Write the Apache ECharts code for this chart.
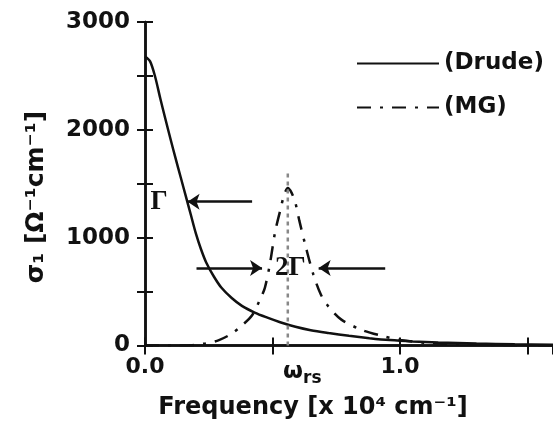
<!DOCTYPE html>
<html><head><meta charset="utf-8">
<script src="https://cdn.jsdelivr.net/npm/echarts@6/dist/echarts.min.js"></script>
<style>html,body{margin:0;padding:0;background:#fff;overflow:hidden}#c{width:553px;height:427px}</style>
</head><body><div id="c"></div>
<script>
// Drude curve (frequency in 10^4 cm^-1, sigma_1 in Ohm^-1 cm^-1)
const drudeFreq  = [0.00,0.02,0.04,0.06,0.08,0.10,0.12,0.14,0.16,0.18,0.20,0.22,0.24,0.27,0.30,0.34,0.38,0.43,0.48,0.53,0.59,0.65,0.72,0.80,0.88,0.96,1.05,1.15,1.30,1.45,1.60];
const drudeSigma = [2680,2635,2490,2290,2100,1915,1735,1560,1385,1210,1035,890,770,640,535,440,367,305,258,216,174,142,116,90,68,50,37,27,18,12,8];
// MG curve
const mgFreq  = [0.00,0.12,0.18,0.24,0.29,0.34,0.38,0.42,0.45,0.47,0.49,0.51,0.53,0.545,0.56,0.575,0.59,0.605,0.63,0.66,0.69,0.72,0.77,0.85,0.92,1.00,1.10,1.25,1.40,1.60];
const mgSigma = [0,0,3,20,50,110,185,280,420,535,760,1050,1250,1390,1460,1415,1320,1160,920,660,470,360,240,145,95,52,25,10,4,1];
// resonance frequency and its marker line
const wrs = 0.56;
const wrsLineTop = 1630;
// tick labels
const yTickLabels = {0:'0',1000:'1000',2000:'2000',3000:'3000'};
const xLabelValues = [0, wrs, 1.0];
const xTickValues = [0, 0.5, 1.0, 1.5];
// annotation arrows (data coords)
const gammaArrow = {from:[0.42,1334], to:[0.167,1334]};
const twoGammaLeft = {from:[0.202,719], to:[0.459,719]};
const twoGammaRight = {from:[0.942,719], to:[0.681,719]};

const BOLD = {fontFamily:'DejaVu Sans', fontWeight:'bold', color:'#111'};
const chart = echarts.init(document.getElementById('c'), null, {renderer:'canvas'});
const arrowLabel = (txt, dist) => ({show:true, position:'end', formatter:txt, distance:dist,
  fontFamily:'Liberation Serif', fontWeight:'bold', fontSize:27, color:'#111'});
chart.setOption({
  animation:false,
  backgroundColor:'#fff',
  grid:{left:145, right:-3, top:22, bottom:81.5},
  legend:{
    data:['(Drude)','(MG)'], orient:'vertical', left:356, top:52, padding:0,
    itemWidth:82, itemHeight:24, itemGap:21,
    itemStyle:{color:'rgba(0,0,0,0)', borderWidth:0, opacity:0},
    textStyle:Object.assign({fontSize:23}, BOLD)
  },
  xAxis:[{
    type:'value', min:0, max:1.6, interval:0.5, position:'bottom',
    axisLine:{lineStyle:{color:'#111', width:2.5}},
    axisTick:{inside:true, length:8, lineStyle:{width:2}, customValues:xTickValues},
    splitLine:{show:false},
    axisLabel:{
      customValues:xLabelValues, margin:11,
      fontFamily:'DejaVu Sans', fontWeight:'bold', fontSize:22, color:'#111',
      formatter:(v)=> v===wrs ? '{p|}{w|ω}{s|rs}' : (v===0 ? '0.0' : (v===1 ? '1.0' : '')),
      rich:{
        p:{width:29},
        w:Object.assign({fontSize:23}, BOLD),
        s:Object.assign({fontSize:17, padding:[14,0,0,0]}, BOLD)
      }
    }
  },{
    type:'value', min:0, max:1.6, interval:0.5, position:'top',
    axisLine:{lineStyle:{color:'#111', width:2.5}},
    axisTick:{inside:true, length:9, lineStyle:{width:2}},
    axisLabel:{show:false}, splitLine:{show:false}
  }],
  yAxis:[{
    type:'value', min:0, max:3000, interval:500, position:'left',
    axisLine:{show:true, lineStyle:{color:'#111', width:2.5}},
    axisTick:{show:true, inside:true, length:8, lineStyle:{width:2}},
    splitLine:{show:false},
    axisLabel:Object.assign({margin:15, fontSize:23,
      formatter:(v)=> (yTickLabels[v] !== undefined ? yTickLabels[v] : '')}, BOLD)
  },{
    type:'value', min:0, max:3000, interval:500, position:'right',
    axisLine:{show:true, lineStyle:{color:'#111', width:2.5}},
    axisTick:{show:true, inside:true, length:8, lineStyle:{width:2}},
    axisLabel:{show:false}, splitLine:{show:false}
  }],
  graphic:[
    {type:'text', x:313, y:408, style:{text:'Frequency [x 10⁴ cm⁻¹]', fontSize:24, fill:'#111',
      fontFamily:'DejaVu Sans', fontWeight:'bold', textAlign:'center', textVerticalAlign:'middle'}},
    {type:'text', x:36, y:197, rotation:Math.PI/2, style:{text:'σ₁ [Ω⁻¹cm⁻¹]', fontSize:25, fill:'#111',
      fontFamily:'DejaVu Sans', fontWeight:'bold', textAlign:'center', textVerticalAlign:'middle'}}
  ],
  series:[
    {
      name:'(Drude)', type:'line', smooth:0.3, symbol:'none',
      data:drudeFreq.map((f,i)=>[f, drudeSigma[i]]),
      lineStyle:{color:'#111', width:2.5},
      itemStyle:{color:'#111'},
      markLine:{
        silent:true, symbol:['none','arrow'], symbolSize:12, precision:3,
        lineStyle:{color:'#111', width:2.5, type:'solid'},
        label:{show:false},
        data:[
          [{coord:gammaArrow.from, label:arrowLabel('Γ',20)},{coord:gammaArrow.to}],
          [{coord:twoGammaLeft.from},{coord:twoGammaLeft.to}],
          [{coord:twoGammaRight.from, label:arrowLabel('2Γ',13)},{coord:twoGammaRight.to}]
        ]
      }
    },
    {
      name:'(MG)', type:'line', smooth:0.3, symbol:'none',
      data:mgFreq.map((f,i)=>[f, mgSigma[i]]),
      lineStyle:{color:'#111', width:2.5, type:[14,9,3,9]},
      itemStyle:{color:'#111'}
    },
    {
      name:'wrs', type:'line', symbol:'none', silent:true,
      data:[[wrs,0],[wrs,wrsLineTop]],
      lineStyle:{color:'#888', width:2.5, type:[4,4]}
    }
  ]
});
</script>
</body></html>
